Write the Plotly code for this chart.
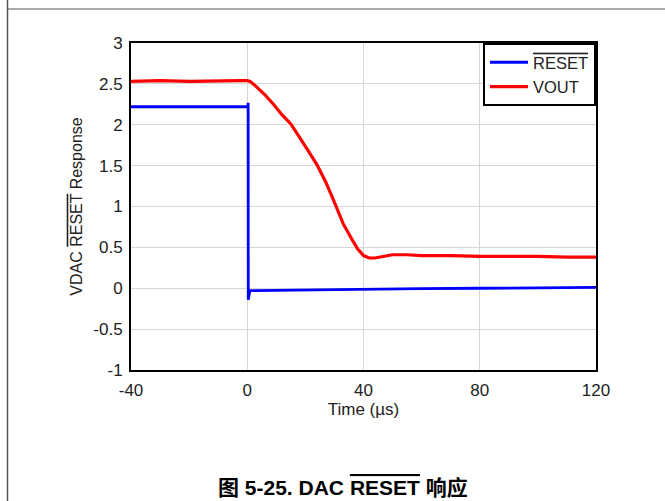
import plotly.graph_objects as go

# ---- data ----
reset_t = [-40, -20, 0.1, 0.25, 0.3, 0.35, 0.9, 10, 20, 40, 60, 80, 100, 120]
reset_v = [2.22, 2.22, 2.22, 2.22, 2.27, -0.14, -0.03, -0.025, -0.02, -0.01, -0.005, 0.0, 0.005, 0.01]

vout_t = [-40, -30, -20, -10, -2, 0, 1, 3, 6, 9, 12, 15, 18, 21, 24, 27, 30, 33, 36, 38, 40, 42, 44,
          47, 50, 55, 60, 70, 80, 90, 100, 110, 120]
vout_v = [2.53, 2.54, 2.53, 2.54, 2.54, 2.54, 2.53, 2.47, 2.37, 2.25, 2.12, 2.01, 1.85, 1.68, 1.51,
          1.30, 1.05, 0.79, 0.60, 0.48, 0.40, 0.37, 0.37, 0.39, 0.41, 0.41, 0.40, 0.40, 0.39, 0.39,
          0.39, 0.38, 0.38]

x_ticks = [-40, 0, 40, 80, 120]
y_ticks = [-1, -0.5, 0, 0.5, 1, 1.5, 2, 2.5, 3]

OL = '<span style="text-decoration:overline">RESET</span>'
FONT = "Liberation Sans, Arial, sans-serif"

fig = go.Figure()
fig.add_trace(go.Scatter(x=reset_t, y=reset_v, mode="lines", name=OL,
                         line=dict(color="#0000ff", width=2.8)))
fig.add_trace(go.Scatter(x=vout_t, y=vout_v, mode="lines", name="VOUT",
                         line=dict(color="#ff0000", width=3.2)))

W, H = 665, 501
L, R, T, B = 131, 69, 43, 131
pw, ph = W - L - R, H - T - B


def px(x):
    return (x - L) / pw


def py(y):
    return (H - B - y) / ph


axis_common = dict(showgrid=True, gridcolor="#d6d6d6", gridwidth=1, zeroline=False,
                   showline=True, linecolor="black", linewidth=2, mirror=True,
                   ticks="", tickfont=dict(family=FONT, size=17, color="#222"))

fig.update_layout(
    width=W, height=H,
    margin=dict(l=L, r=R, t=T, b=B),
    paper_bgcolor="white", plot_bgcolor="white",
    font=dict(family=FONT, size=16, color="#222"),
    xaxis=dict(range=[-40, 120], tickvals=x_ticks, ticktext=[str(v) for v in x_ticks],
               ticklabelstandoff=4,
               title=dict(text="Time (µs)", font=dict(size=17), standoff=2), **axis_common),
    yaxis=dict(range=[-1, 3], tickvals=y_ticks, ticktext=[f"{v:g}" for v in y_ticks],
               ticklabelstandoff=3,
               title=dict(text=f"VDAC {OL} Response", font=dict(size=16), standoff=7),
               **axis_common),
    legend=dict(x=1, y=1, xanchor="right", yanchor="top", bgcolor="white",
                bordercolor="black", borderwidth=2, font=dict(size=16.5, color="#222"),
                tracegroupgap=0, itemwidth=38),
    showlegend=True,
)

# page frame lines
fig.add_shape(type="line", xref="paper", yref="paper", x0=px(7.5), x1=px(665), y0=py(9), y1=py(9),
              line=dict(color="#555", width=1))
fig.add_shape(type="line", xref="paper", yref="paper", x0=px(7.5), x1=px(7.5), y0=py(0), y1=py(501),
              line=dict(color="#555", width=1.5))

fig.add_annotation(xref="paper", yref="paper", x=px(343), y=py(487), xanchor="center", yanchor="middle",
                   showarrow=False,
                   text=f"<b>图 5-25. DAC {OL} 响应</b>",
                   font=dict(family="Liberation Sans, Noto Sans CJK SC, sans-serif", size=21, color="black"))

fig.write_html("out.html")
